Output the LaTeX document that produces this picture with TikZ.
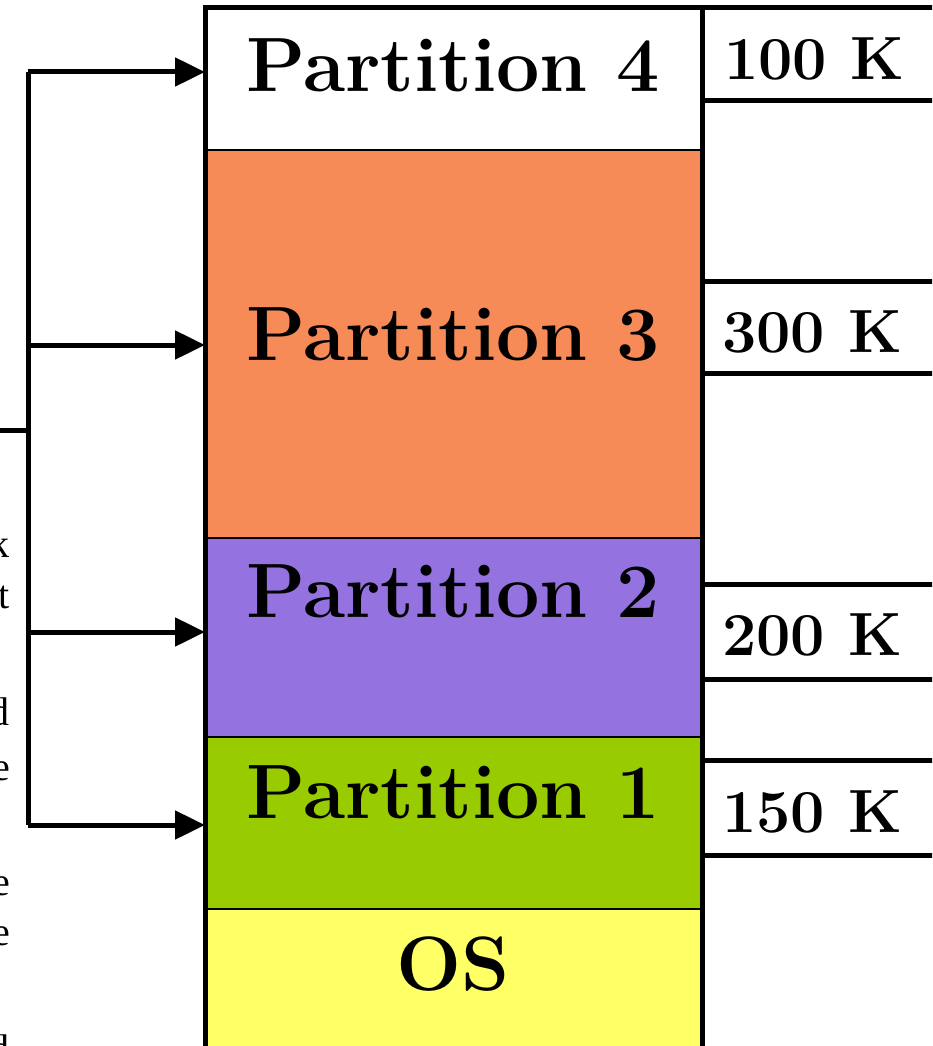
\documentclass[tikz,border=0pt]{standalone}
\usepackage{fontspec}
\newfontfamily\sideserif{Liberation Serif}
\usetikzlibrary{arrows.meta}
\definecolor{porange}{HTML}{F68B57}
\definecolor{ppurple}{HTML}{9473E1}
\definecolor{pgreen}{HTML}{99CC00}
\definecolor{pyellow}{HTML}{FFFF66}
\tikzset{
  partbox/.style={draw=black, line width=2pt, inner sep=0pt, minimum width=495pt, anchor=north west},
  parttext/.style={font=\fontsize{77}{82}\selectfont\bfseries, anchor=base, inner sep=0pt},
  sizetext/.style={font=\fontsize{61}{65}\selectfont\bfseries, anchor=base west, inner sep=0pt},
  sideletter/.style={font=\sideserif\fontsize{40}{44}\selectfont, anchor=base east, inner sep=0pt},
  thickline/.style={line width=5pt},
  busarrow/.style={line width=5pt, -{Triangle[length=30pt,width=28pt]}},
}
\begin{document}
\begin{tikzpicture}[x=1pt,y=-1pt]
\useasboundingbox (0,0) rectangle (932,1046);
\clip (0,0) rectangle (932,1046);
% partition boxes
\node[partbox, fill=white, minimum height=141pt] (p4box) at (205,8) {};
\node[partbox, fill=porange, minimum height=388pt] (p3box) at (205,149) {};
\node[partbox, fill=ppurple, minimum height=199pt] (p2box) at (205,537) {};
\node[partbox, fill=pgreen, minimum height=172pt] (p1box) at (205,736) {};
\node[partbox, fill=pyellow, minimum height=142pt] (osbox) at (205,908) {};
% outer border of the memory column
\draw[thickline] (p4box.north west) rectangle (osbox.south east);
% labels
\node[parttext] (p4) at (453,92) {Partition 4};
\node[parttext] (p3) at (453,360) {Partition 3};
\node[parttext] (p2) at (453,617) {Partition 2};
\node[parttext] (p1) at (453,818) {Partition 1};
\node[parttext] (os) at (453,990) {OS};
% size boxes on the right
\coordinate (r4t) at (700,8);   \coordinate (r4b) at (700,101);
\coordinate (r3t) at (700,281); \coordinate (r3b) at (700,373);
\coordinate (r2t) at (700,584); \coordinate (r2b) at (700,679);
\coordinate (r1t) at (700,760); \coordinate (r1b) at (700,855);
\coordinate (redge) at (940,0);
\foreach \c in {r4t,r4b,r3t,r3b,r2t,r2b,r1t,r1b}
  \draw[thickline] (\c) -- (\c -| redge);
\node[sizetext] (s4) at (724,80) {100 K};
\node[sizetext] (s3) at (722,352) {300 K};
\node[sizetext] (s2) at (722,655) {200 K};
\node[sizetext] (s1) at (722,832) {150 K};
% bus and arrows
\coordinate (b4) at (28,72);
\coordinate (b3) at (28,345);
\coordinate (b2) at (28,632);
\coordinate (b1) at (28,825);
\coordinate (bin) at (28,430);
\coordinate (lin) at (-5,430);
\draw[thickline] (b4) -- (b1);
\draw[thickline] (lin) -- (bin);
\draw[busarrow] (b4) -- (b4 -| p4box.west);
\draw[busarrow] (b3) -- (b3 -| p3box.west);
\draw[busarrow] (b2) -- (b2 -| p2box.west);
\draw[busarrow] (b1) -- (b1 -| p1box.west);
% fragments of text cut at the left edge (as in the reference)
\node[sideletter] (l1) at (10,557) {k};
\node[sideletter] (l2) at (10,608) {t};
\node[sideletter] (l3) at (10,725) {d};
\node[sideletter] (l4) at (10,780) {e};
\node[sideletter] (l5) at (10,895) {e};
\node[sideletter] (l6) at (10,945) {e};
\node[sideletter] (l7) at (10,1062) {d};
\end{tikzpicture}
\end{document}
